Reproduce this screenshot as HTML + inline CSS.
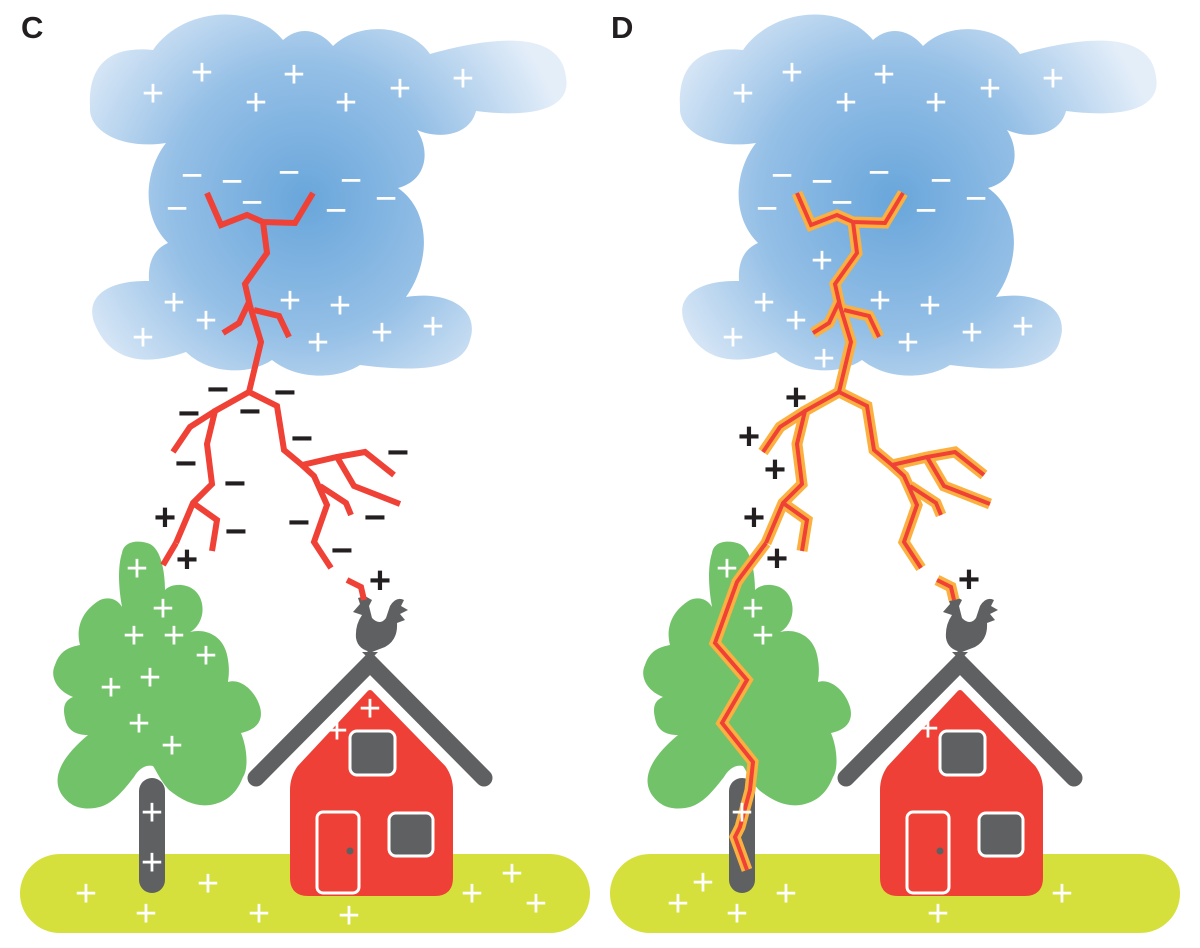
<!DOCTYPE html>
<html><head><meta charset="utf-8"><style>
html,body{margin:0;padding:0;background:#fff;}
svg{display:block;}
.w{fill:#fff;font-family:"Liberation Sans",sans-serif;font-size:38px;text-anchor:middle;}
.k{fill:#231f20;font-family:"Liberation Sans",sans-serif;font-size:38px;font-weight:bold;text-anchor:middle;}
.lab{fill:#231f20;font-family:"Liberation Sans",sans-serif;font-size:31px;font-weight:bold;}
</style></head><body>
<svg width="1200" height="948" viewBox="0 0 1200 948" xmlns="http://www.w3.org/2000/svg">
<defs>
<radialGradient id="cg" gradientUnits="userSpaceOnUse" cx="305" cy="200" r="270">
<stop offset="0" stop-color="#69a6db"/><stop offset="0.5" stop-color="#94bfe6"/><stop offset="1" stop-color="#e4eef9"/>
</radialGradient>
<radialGradient id="cg2" gradientUnits="userSpaceOnUse" cx="895" cy="200" r="270">
<stop offset="0" stop-color="#69a6db"/><stop offset="0.5" stop-color="#94bfe6"/><stop offset="1" stop-color="#e4eef9"/>
</radialGradient>
<path id="cloud" d="M153,50 C180,10 250,0 283,40 C300,25 320,30 333,46 C360,20 410,25 430,54 C480,40 560,25 566,77 C572,110 530,118 476,111 C470,135 440,140 417,130 C430,150 428,180 398,188 C430,210 432,260 406,297 C450,290 480,310 470,340 C462,375 400,370 360,365 C340,378 300,382 272,360 C250,375 210,375 186,352 C150,365 110,365 94,322 C85,295 110,280 149,281 C148,265 152,250 168,243 C140,215 145,170 166,143 C120,150 88,130 90,107 C88,70 105,45 153,50 Z"/>
<path id="tree" d="M122,553 C124,540 140,540 150,544 C162,550 165,575 165,590 C172,582 195,582 201,600 C206,615 198,628 190,632 C205,628 225,635 228,660 C230,672 228,680 228,682 C240,678 255,690 260,707 C264,722 255,730 241,733 C248,750 248,770 243,777 C238,790 230,800 215,804 C200,808 185,803 169,790 C160,780 156,770 153,766 C145,764 138,770 134,777 C120,795 110,806 95,808 C80,810 70,806 62,795 C52,780 58,760 88,735 C75,735 67,730 65,718 C62,705 66,700 73,697 C55,690 50,675 55,665 C60,650 70,647 80,645 C76,630 80,612 100,600 C110,596 118,600 122,607 C118,585 118,565 122,553 Z"/>
<g id="house">
<rect x="139" y="778" width="26" height="115" rx="13" fill="#5f6062"/>
<path d="M370,693 L300,768 Q293,778 293,790 V878 Q293,893 308,893 H435 Q450,893 450,878 V790 Q450,778 443,768 Z" fill="#ee4036" stroke="#ee4036" stroke-width="6" stroke-linejoin="round"/>
<polyline points="256,778 370,663 484,778" fill="none" stroke="#5f6062" stroke-width="17" stroke-linecap="round" stroke-linejoin="miter"/>
<line x1="370" y1="648" x2="370" y2="665" stroke="#5f6062" stroke-width="5"/>
<path d="M365,596 L372,600 L369,606 L372,618 Q380,626 386,618 L390,606 Q396,596 404,600 L401,606 L408,610 L400,614 L405,620 L397,623 Q398,640 385,647 L372,652 Q358,650 356,638 Q355,625 362,615 L353,612 L360,604 L358,598 Z" fill="#5f6062"/>
<path d="M362,652 L378,652 L370,660 Z" fill="#5f6062"/>
<rect x="350" y="731" width="45" height="44" rx="7" fill="#5f6062" stroke="#fff" stroke-width="3"/>
<rect x="389" y="813" width="44" height="43" rx="7" fill="#5f6062" stroke="#fff" stroke-width="3"/>
<rect x="317" y="812" width="42" height="81" rx="6" fill="#ee4036" stroke="#fff" stroke-width="3"/>
<circle cx="350" cy="851" r="3.5" fill="#5f6062"/>
</g>
<g id="bolt" fill="none" stroke-linejoin="miter">
<polyline points="207,193 221,225 247,215 263,222 295,223 313,193"/>
<polyline points="263,222 267,253 245,284 250,306 261,342 249,392"/>
<polyline points="249,302 239,323 223,333"/>
<polyline points="254,310 279,316 289,337"/>
<polyline points="249,392 215,411 207,444 212,484 193,503 176,543"/>
<polyline points="215,411 190,427 173,452"/>
<polyline points="193,503 217,520 212,551"/>
<polyline points="249,392 277,406 284,450 302,465 337,457 365,452 394,475"/>
<polyline points="337,457 354,486 400,504"/>
<polyline points="302,465 314,476 327,505 314,542 331,568"/>
<polyline points="320,486 346,503 351,515"/>
<polyline points="347,580 361,587 364,600"/>
</g>
</defs>

<!-- ===== Panel C ===== -->
<text class="lab" x="21" y="38">C</text>
<use href="#cloud" fill="url(#cg)"/>
<rect x="20" y="854" width="570" height="79" rx="40" fill="#d5e03c"/>
<use href="#tree" fill="#72c269"/>
<use href="#house"/>
<use href="#bolt" stroke="#ef4136" stroke-width="6"/>
<line x1="176" y1="543" x2="163" y2="565" stroke="#ef4136" stroke-width="6"/>

<g class="w">
<text x="153" y="106">+</text><text x="202" y="85">+</text><text x="256" y="115">+</text><text x="294" y="87">+</text><text x="346" y="115">+</text><text x="400" y="101">+</text><text x="463" y="91">+</text>
<text x="174" y="315">+</text><text x="206" y="333">+</text><text x="143" y="350">+</text><text x="290" y="313">+</text><text x="340" y="318">+</text><text x="318" y="355">+</text><text x="382" y="345">+</text><text x="433" y="339">+</text>
<text x="192" y="188">−</text><text x="232" y="194">−</text><text x="289" y="185">−</text><text x="351" y="193">−</text><text x="177" y="221">−</text><text x="252" y="215">−</text><text x="336" y="223">−</text><text x="386" y="211">−</text>
<text x="137" y="581">+</text><text x="163" y="621">+</text><text x="134" y="648">+</text><text x="174" y="648">+</text><text x="206" y="668">+</text><text x="150" y="690">+</text><text x="111" y="700">+</text><text x="139" y="736">+</text><text x="172" y="758">+</text>
<text x="152" y="825">+</text><text x="152" y="875">+</text>
<text x="86" y="906">+</text><text x="146" y="926">+</text><text x="208" y="896">+</text><text x="259" y="926">+</text><text x="349" y="928">+</text><text x="472" y="906">+</text><text x="512" y="886">+</text><text x="536" y="916">+</text>
<text x="370" y="721">+</text><text x="337" y="743">+</text>
</g>
<g class="k">
<text x="218" y="402">−</text><text x="285" y="405">−</text><text x="189" y="426">−</text><text x="250" y="424">−</text><text x="302" y="451">−</text><text x="186" y="476">−</text><text x="235" y="496">−</text><text x="398" y="465">−</text><text x="236" y="544">−</text><text x="299" y="535">−</text><text x="375" y="530">−</text><text x="342" y="563">−</text>
<text x="165" y="530">+</text><text x="187" y="572">+</text><text x="380" y="593">+</text>
</g>

<!-- ===== Panel D ===== -->
<text class="lab" x="611" y="38">D</text>
<g transform="translate(590,0)">
<use href="#cloud" fill="url(#cg)"/>
<rect x="20" y="854" width="570" height="79" rx="40" fill="#d5e03c"/>
<use href="#tree" fill="#72c269"/>
<use href="#house"/>
<g>
<use href="#bolt" stroke="#fbb040" stroke-width="11"/>
<polyline points="176,543 152,575 147,582 125,643 157,680 132,723 163,762 160,790 150,827 145,837 157,870" fill="none" stroke="#fbb040" stroke-width="11"/>
<use href="#bolt" stroke="#ef4136" stroke-width="4"/>
<polyline points="176,543 152,575 147,582 125,643 157,680 132,723 163,762 160,790 150,827 145,837 157,870" fill="none" stroke="#ef4136" stroke-width="4"/>
</g>
<g class="w">
<text x="153" y="106">+</text><text x="202" y="85">+</text><text x="256" y="115">+</text><text x="294" y="87">+</text><text x="346" y="115">+</text><text x="400" y="101">+</text><text x="463" y="91">+</text>
<text x="174" y="315">+</text><text x="206" y="333">+</text><text x="143" y="350">+</text><text x="290" y="313">+</text><text x="340" y="318">+</text><text x="318" y="355">+</text><text x="382" y="345">+</text><text x="433" y="339">+</text>
<text x="232" y="273">+</text><text x="234" y="371">+</text>
<text x="192" y="188">−</text><text x="232" y="194">−</text><text x="289" y="185">−</text><text x="351" y="193">−</text><text x="177" y="221">−</text><text x="252" y="215">−</text><text x="336" y="223">−</text><text x="386" y="211">−</text>
<text x="137" y="581">+</text><text x="163" y="621">+</text><text x="173" y="648">+</text>
<text x="152" y="825">+</text>
<text x="113" y="895">+</text><text x="88" y="916">+</text><text x="147" y="926">+</text><text x="196" y="906">+</text><text x="348" y="926">+</text><text x="472" y="906">+</text>
<text x="338" y="741">+</text>
</g>
<g class="k">
<text x="206" y="410">+</text><text x="159" y="449">+</text><text x="185" y="482">+</text><text x="164" y="530">+</text><text x="187" y="571">+</text><text x="379" y="592">+</text>
</g>
</g>
</svg>
</body></html>
